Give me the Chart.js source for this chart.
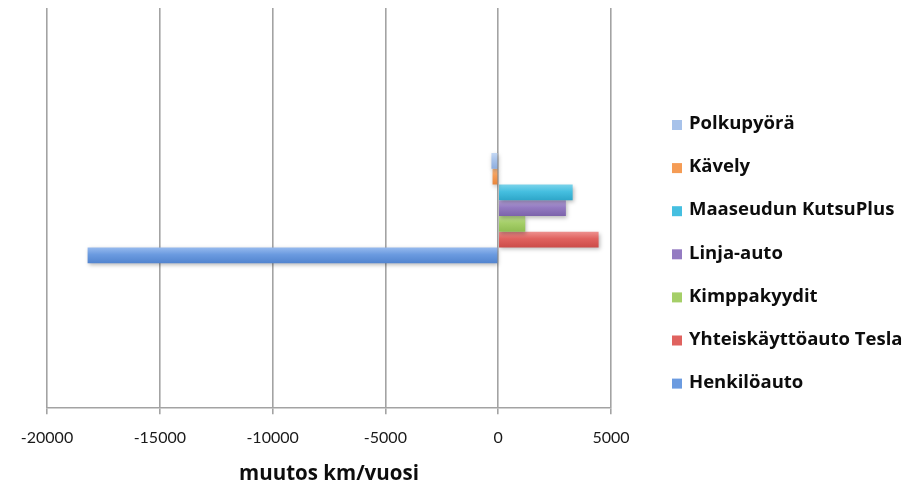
<!DOCTYPE html>
<html>
<head>
<meta charset="utf-8">
<script src="https://cdn.jsdelivr.net/npm/chart.js@4/dist/chart.umd.min.js"></script>
<style>
  html, body { margin: 0; padding: 0; background: #ffffff; }
  #wrap { width: 924px; height: 486px; }
</style>
</head>
<body>
<div id="wrap"><canvas id="c" width="924" height="486"></canvas></div>
<script>
// One category, seven transport modes: change in kilometres per year
const categories = [''];
const seriesNames = [
  'Polkupyörä',
  'Kävely',
  'Maaseudun KutsuPlus',
  'Linja-auto',
  'Kimppakyydit',
  'Yhteiskäyttöauto Tesla',
  'Henkilöauto'
];
const polkupyora = [-300];
const kavely = [-250];
const kutsuPlus = [3300];
const linjaAuto = [3000];
const kimppakyydit = [1200];
const tesla = [4450];
const henkiloauto = [-18200];
const xTickValues = [-20000, -15000, -10000, -5000, 0, 5000];
const axisTitle = 'muutos km/vuosi';

const seriesValues = [polkupyora, kavely, kutsuPlus, linjaAuto, kimppakyydit, tesla, henkiloauto];

// Base colours with a lighter top and darker bottom shade for each bar
const seriesColors = [
  { base: '#a7c2ea', light: '#c4d8f4', dark: '#8eaedf' },
  { base: '#f59c55', light: '#f9bb86', dark: '#e8863c' },
  { base: '#45bfe0', light: '#7bd3ea', dark: '#2ea6c9' },
  { base: '#947bc2', light: '#b3a1d6', dark: '#7c63ab' },
  { base: '#a5cf68', light: '#c1e092', dark: '#8fbc52' },
  { base: '#e0625f', light: '#ee918f', dark: '#cc4c49' },
  { base: '#6b9be0', light: '#97baee', dark: '#5284cf' }
];

const TICK_FONT = 'Lato, "Open Sans", "DejaVu Sans", sans-serif';
const BOLD_FONT = '"Open Sans", Lato, "DejaVu Sans", sans-serif';

// Paint each bar with a vertical gradient and a soft drop shadow
const barShading = {
  id: 'barShading',
  beforeDatasetDraw(chart, args) {
    const ctx = chart.ctx;
    const col = seriesColors[args.index];
    args.meta.data.forEach(el => {
      const top = el.y - el.height / 2;
      const g = ctx.createLinearGradient(0, top, 0, top + el.height);
      g.addColorStop(0, col.light);
      g.addColorStop(0.45, col.base);
      g.addColorStop(1, col.dark);
      el.options.backgroundColor = g;
    });
    ctx.save();
    ctx.shadowColor = 'rgba(0,0,0,0.28)';
    ctx.shadowBlur = 4;
    ctx.shadowOffsetX = 1;
    ctx.shadowOffsetY = 2;
  },
  afterDatasetDraw(chart) {
    chart.ctx.restore();
  }
};

// Legend column on the right, one entry per series
const sideLegend = {
  id: 'sideLegend',
  afterDraw(chart) {
    const ctx = chart.ctx;
    ctx.save();
    ctx.font = 'bold 18.5px ' + BOLD_FONT;
    ctx.textBaseline = 'middle';
    ctx.textAlign = 'left';
    const x0 = 672, y0 = 124, step = 43.1;
    chart.data.datasets.forEach((ds, i) => {
      const y = y0 + i * step;
      ctx.fillStyle = seriesColors[i].base;
      ctx.fillRect(x0, y - 4, 10, 10);
      ctx.fillStyle = '#0d0d0d';
      ctx.fillText(ds.label, x0 + 17, y);
    });
    ctx.restore();
  }
};

const datasets = seriesNames.map((name, i) => ({
  label: name,
  data: seriesValues[i],
  backgroundColor: () => seriesColors[i].base,
  borderWidth: 0,
  categoryPercentage: 0.275,
  barPercentage: 1.0
}));

new Chart(document.getElementById('c'), {
  type: 'bar',
  data: { labels: categories, datasets },
  plugins: [barShading, sideLegend],
  options: {
    indexAxis: 'y',
    responsive: false,
    animation: false,
    devicePixelRatio: 1,
    layout: { padding: { left: 47, right: 313, top: 8, bottom: 0 } },
    plugins: {
      legend: { display: false },
      tooltip: { enabled: false }
    },
    scales: {
      x: {
        min: -20000,
        max: 5000,
        afterBuildTicks(scale) {
          scale.ticks = xTickValues.map(v => ({ value: v }));
        },
        grid: {
          color: '#a3a3a3',
          lineWidth: 1.6,
          tickLength: 6,
          drawTicks: true
        },
        border: { display: true, color: '#a3a3a3', width: 1.6 },
        ticks: {
          padding: 14,
          color: '#1a1a1a',
          font: { family: TICK_FONT, size: 16 },
          callback: v => String(v),
          maxRotation: 0
        },
        title: {
          display: true,
          text: axisTitle,
          color: '#0d0d0d',
          font: { family: BOLD_FONT, size: 20.5, weight: 'bold' },
          padding: { top: 0, bottom: 0 }
        }
      },
      y: {
        display: false
      }
    }
  }
});
</script>
</body>
</html>
